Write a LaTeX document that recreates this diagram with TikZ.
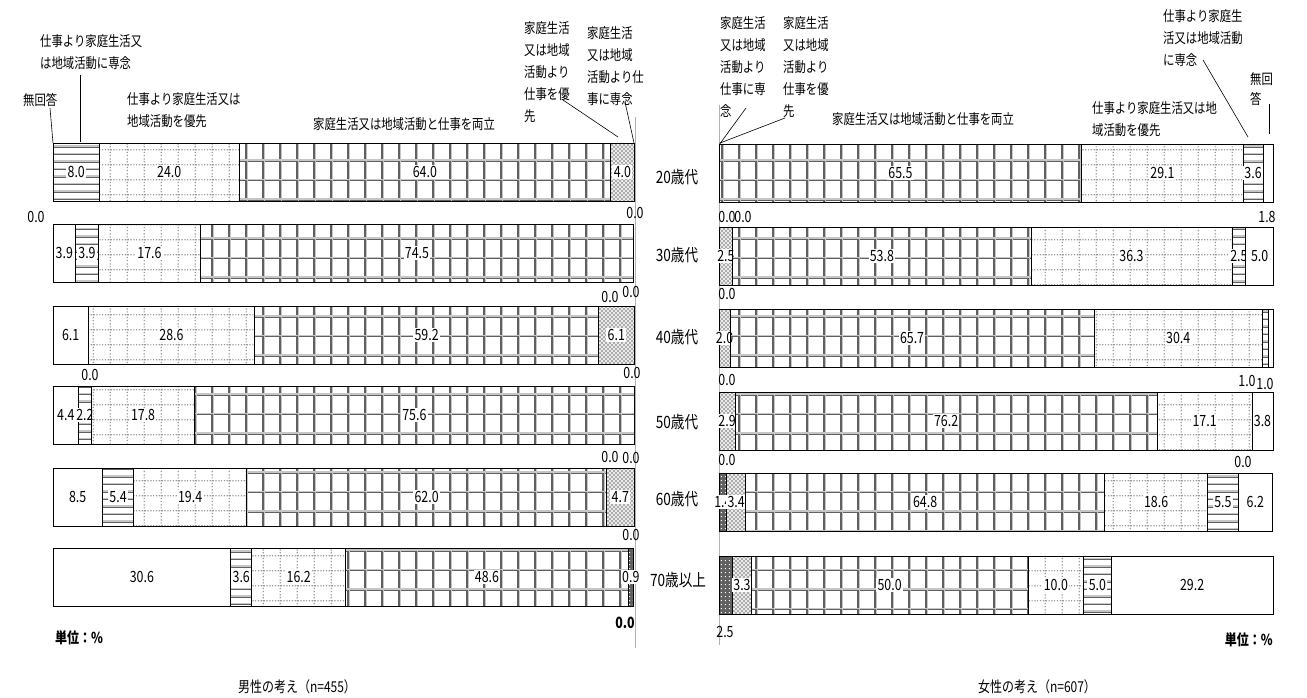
\documentclass[tikz,border=0pt]{standalone}
\usepackage{fontspec}
\setmainfont[FakeStretch=0.8]{Noto Sans CJK JP}
\usetikzlibrary{patterns}

% patterns of the six answers
\pgfdeclarepatterninherentlycolored{bothgrid}{\pgfqpoint{-1pt}{-1pt}}{\pgfqpoint{18pt}{20.5pt}}{\pgfqpoint{17pt}{19.5pt}}{%
  \pgfsetlinewidth{1.3pt}%
  \pgfsetstrokecolor{gray!75!black}%
  \pgfpathmoveto{\pgfqpoint{0pt}{9.2pt}}\pgfpathlineto{\pgfqpoint{17pt}{9.2pt}}%
  \pgfpathmoveto{\pgfqpoint{8pt}{0pt}}\pgfpathlineto{\pgfqpoint{8pt}{19.5pt}}%
  \pgfusepath{stroke}%
  \pgfsetstrokecolor{gray!45}%
  \pgfpathmoveto{\pgfqpoint{0pt}{10.4pt}}\pgfpathlineto{\pgfqpoint{17pt}{10.4pt}}%
  \pgfpathmoveto{\pgfqpoint{9.2pt}{0pt}}\pgfpathlineto{\pgfqpoint{9.2pt}{19.5pt}}%
  \pgfusepath{stroke}}
\pgfdeclarepatternformonly{homegrid}{\pgfpointorigin}{\pgfqpoint{17pt}{15pt}}{\pgfqpoint{17pt}{15pt}}{%
  \foreach \k in {0,3,...,15}{\pgfpathrectangle{\pgfqpoint{\k pt}{7pt}}{\pgfqpoint{1.3pt}{1.3pt}}\pgfusepath{fill}}%
  \foreach \k in {1,4,...,13}{\pgfpathrectangle{\pgfqpoint{8pt}{\k pt}}{\pgfqpoint{1.3pt}{1.3pt}}\pgfusepath{fill}}}
\pgfdeclarepatterninherentlycolored{homelines}{\pgfqpoint{0pt}{-1pt}}{\pgfqpoint{4pt}{8pt}}{\pgfqpoint{4pt}{7.5pt}}{%
  \pgfsetlinewidth{1.3pt}%
  \pgfsetstrokecolor{gray!75!black}%
  \pgfpathmoveto{\pgfqpoint{0pt}{2.4pt}}\pgfpathlineto{\pgfqpoint{4pt}{2.4pt}}%
  \pgfusepath{stroke}%
  \pgfsetstrokecolor{gray!45}%
  \pgfpathmoveto{\pgfqpoint{0pt}{3.6pt}}\pgfpathlineto{\pgfqpoint{4pt}{3.6pt}}%
  \pgfusepath{stroke}}
\pgfdeclarepatternformonly{worklattice}{\pgfqpoint{-1pt}{-1pt}}{\pgfqpoint{5pt}{5pt}}{\pgfqpoint{4pt}{4pt}}{%
  \pgfsetlinewidth{0.9pt}%
  \pgfpathmoveto{\pgfqpoint{0pt}{0pt}}\pgfpathlineto{\pgfqpoint{4pt}{4pt}}%
  \pgfpathmoveto{\pgfqpoint{0pt}{4pt}}\pgfpathlineto{\pgfqpoint{4pt}{0pt}}%
  \pgfusepath{stroke}}
\pgfdeclarepatternformonly{workdots}{\pgfpointorigin}{\pgfqpoint{4pt}{4pt}}{\pgfqpoint{4pt}{4pt}}{%
  \pgfpathrectangle{\pgfqpoint{1pt}{1pt}}{\pgfqpoint{1.3pt}{1.3pt}}\pgfusepath{fill}}

\tikzset{
  seg/.style={draw=black, line width=0.8pt},
  segna/.style={seg, fill=white},
  seghomeonly/.style={seg, pattern=homelines},
  seghomepref/.style={seg, pattern=homegrid, pattern color=gray!80},
  segboth/.style={seg, pattern=bothgrid},
  segworkpref/.style={seg, pattern=worklattice, pattern color=gray!65},
  segworkonly/.style={seg, preaction={fill=gray!75!black}, pattern=workdots, pattern color=white},
  vallabel/.style={fill=white, inner sep=1.3pt, font=\fontsize{15.5}{15.5}\selectfont},
  outlabel/.style={inner sep=0pt, font=\fontsize{15.5}{15.5}\selectfont},
  agelabel/.style={inner sep=0pt, font=\fontsize{17}{17}\selectfont},
  catlabel/.style={anchor=north west, align=left, inner sep=0pt, font=\fontsize{14.2}{22}\selectfont},
  leader/.style={draw=black, line width=0.6pt},
  axisline/.style={draw=gray!60, line width=1pt}
}

% one bar: name, left x, top y, px per percent, list value/style/label
\newcommand{\drawbar}[5]{%
  \xdef\segx{#2}%
  \foreach \v/\s/\f [count=\i] in {#5}{%
    \pgfmathsetmacro\segend{\segx+#4*\v}%
    \path[\s] (\segx,#3) rectangle (\segend,#3+58.5);
    \ifnum\f=1 \node[vallabel] (#1-\i) at ({(\segx+\segend)/2},#3+29) {\v};\fi
    \xdef\segx{\segend}%
  }%
}

\begin{document}
\begin{tikzpicture}[x=1pt, y=-1pt]
  \fill[white] (0,0) rectangle (1307,697);
  \useasboundingbox (0,0) rectangle (1307,697);

  % axes
  \coordinate (maxtop) at (635,117);
  \coordinate (maxbot) at (635,648);
  \coordinate (faxtop) at (719,105);
  \coordinate (faxbot) at (719,645);
  \draw[axisline] (maxtop) -- (maxbot);
  \draw[axisline] (faxtop) -- (faxbot);

  % men
  \drawbar{m20}{53}{143}{5.81}{0.0/segna/0,8.0/seghomeonly/1,24.0/seghomepref/1,64.0/segboth/1,4.0/segworkpref/1,0.0/segworkonly/0}
  \drawbar{m30}{53}{224}{5.81}{3.9/segna/1,3.9/seghomeonly/1,17.6/seghomepref/1,74.5/segboth/1,0.0/segworkpref/0,0.0/segworkonly/0}
  \drawbar{m40}{53}{306}{5.81}{6.1/segna/1,0.0/seghomeonly/0,28.6/seghomepref/1,59.2/segboth/1,6.1/segworkpref/1,0.0/segworkonly/0}
  \drawbar{m50}{53}{386}{5.81}{4.4/segna/1,2.2/seghomeonly/1,17.8/seghomepref/1,75.6/segboth/1,0.0/segworkpref/0,0.0/segworkonly/0}
  \drawbar{m60}{53}{468}{5.81}{8.5/segna/1,5.4/seghomeonly/1,19.4/seghomepref/1,62.0/segboth/1,4.7/segworkpref/1,0.0/segworkonly/0}
  \drawbar{m70}{53}{548}{5.81}{30.6/segna/1,3.6/seghomeonly/1,16.2/seghomepref/1,48.6/segboth/1,0.0/segworkpref/0,0.9/segworkonly/1}

  % women
  \drawbar{w20}{719}{144}{5.54}{0.0/segworkonly/0,0.0/segworkpref/0,65.5/segboth/1,29.1/seghomepref/1,3.6/seghomeonly/1,1.8/segna/0}
  \drawbar{w30}{719}{227}{5.54}{0.0/segworkonly/0,2.5/segworkpref/1,53.8/segboth/1,36.3/seghomepref/1,2.5/seghomeonly/1,5.0/segna/1}
  \drawbar{w40}{719}{309}{5.54}{0.0/segworkonly/0,2.0/segworkpref/1,65.7/segboth/1,30.4/seghomepref/1,1.0/seghomeonly/0,1.0/segna/0}
  \drawbar{w50}{719}{392}{5.54}{0.0/segworkonly/0,2.9/segworkpref/1,76.2/segboth/1,17.1/seghomepref/1,0.0/seghomeonly/0,3.8/segna/1}
  \drawbar{w60}{719}{473}{5.54}{1.4/segworkonly/1,3.4/segworkpref/1,64.8/segboth/1,18.6/seghomepref/1,5.5/seghomeonly/1,6.2/segna/1}
  \drawbar{w70}{719}{556}{5.54}{2.5/segworkonly/0,3.3/segworkpref/1,50.0/segboth/1,10.0/seghomepref/1,5.0/seghomeonly/1,29.2/segna/1}

  % ages
  \node[agelabel] (a20) at (677,177) {20歳代};
  \node[agelabel] (a30) at (677,255) {30歳代};
  \node[agelabel] (a40) at (677,337) {40歳代};
  \node[agelabel] (a50) at (677,422) {50歳代};
  \node[agelabel] (a60) at (677,499) {60歳代};
  \node[agelabel] (a70) at (678,580) {70歳以上};

  % small values outside the bars
  \node[outlabel] (m20-z1) at (36,217) {0.0};
  \node[outlabel] (m20-z2) at (635,213) {0.0};
  \node[outlabel] (m30-z1) at (610,297) {0.0};
  \node[outlabel] (m30-z2) at (631,292) {0.0};
  \node[outlabel] (m40-z1) at (90,375) {0.0};
  \node[outlabel] (m40-z2) at (632,373) {0.0};
  \node[outlabel] (m50-z1) at (610,457) {0.0};
  \node[outlabel] (m50-z2) at (631,458) {0.0};
  \node[outlabel] (m60-z1) at (631,535) {0.0};
  \node[outlabel, font=\fontsize{15.5}{15.5}\selectfont\bfseries] (m70-z1) at (625,623) {0.0};
  \node[outlabel] (w20-z1) at (727,217) {0.0};
  \node[outlabel] (w20-z2) at (743,217) {0.0};
  \node[outlabel] (w20-z3) at (1267,217) {1.8};
  \node[outlabel] (w30-z1) at (727,294) {0.0};
  \node[outlabel] (w40-z1) at (727,380) {0.0};
  \node[outlabel] (w40-z2) at (1247,381) {1.0};
  \node[outlabel] (w40-z3) at (1265,384) {1.0};
  \node[outlabel] (w50-z1) at (727,460) {0.0};
  \node[outlabel] (w50-z2) at (1243,462) {0.0};
  \node[outlabel] (w70-z1) at (725,632) {2.5};

  % answer names, men
  \node[catlabel] (mna) at (23,93) {無回答};
  \node[catlabel] (mhomeonly) at (40,34) {仕事より家庭生活又\\は地域活動に専念};
  \node[catlabel] (mhomepref) at (127,92) {仕事より家庭生活又は\\地域活動を優先};
  \node[catlabel] (mboth) at (313,117) {家庭生活又は地域活動と仕事を両立};
  \node[catlabel] (mworkpref) at (524,21) {家庭生活\\又は地域\\活動より\\仕事を優\\先};
  \node[catlabel] (mworkonly) at (587,26) {家庭生活\\又は地域\\活動より仕\\事に専念};
  \coordinate (mna-s) at (50,108);
  \coordinate (mna-e) at (53,143);
  \coordinate (mhomeonly-s) at (80,75);
  \coordinate (mhomeonly-e) at (80,142);
  \coordinate (mworkpref-s) at (563,100);
  \coordinate (mworkpref-e) at (618,137);
  \coordinate (mworkonly-s) at (625,102);
  \coordinate (mworkonly-e) at (634,143);
  \draw[leader] (mna-s) -- (mna-e);
  \draw[leader] (mhomeonly-s) -- (mhomeonly-e);
  \draw[leader] (mworkpref-s) -- (mworkpref-e);
  \draw[leader] (mworkonly-s) -- (mworkonly-e);

  % answer names, women
  \node[catlabel] (wworkonly) at (720,16) {家庭生活\\又は地域\\活動より\\仕事に専\\念};
  \node[catlabel] (wworkpref) at (783,16) {家庭生活\\又は地域\\活動より\\仕事を優\\先};
  \node[catlabel] (wboth) at (832,112) {家庭生活又は地域活動と仕事を両立};
  \node[catlabel] (whomepref) at (1092,101) {仕事より家庭生活又は地\\域活動を優先};
  \node[catlabel] (whomeonly) at (1163,9) {仕事より家庭生\\活又は地域活動\\に専念};
  \node[catlabel, font=\fontsize{14.2}{20}\selectfont] (wna) at (1250,72) {無回\\答};
  \coordinate (wworkonly-s) at (746,108);
  \coordinate (wworkonly-e) at (719,145);
  \coordinate (wworkpref-s) at (785,118);
  \coordinate (wworkpref-e) at (720,143);
  \coordinate (whomeonly-s) at (1203,60);
  \coordinate (whomeonly-e) at (1248,137);
  \coordinate (wna-s) at (1269,104);
  \coordinate (wna-e) at (1269,134);
  \draw[leader] (wworkonly-s) -- (wworkonly-e);
  \draw[leader] (wworkpref-s) -- (wworkpref-e);
  \draw[leader] (whomeonly-s) -- (whomeonly-e);
  \draw[leader] (wna-s) -- (wna-e);

  % units and titles
  \node[outlabel, anchor=west, font=\fontsize{15}{15}\selectfont\bfseries] (munit) at (55,638) {単位：\%};
  \node[outlabel, anchor=east, font=\fontsize{15}{15}\selectfont\bfseries] (wunit) at (1273,640) {単位：\%};
  \node[outlabel, font=\fontsize{15}{15}\selectfont] (mtitle) at (297,687) {男性の考え（n=455）};
  \node[outlabel, font=\fontsize{15}{15}\selectfont] (wtitle) at (1037,687) {女性の考え（n=607）};
\end{tikzpicture}
\end{document}
